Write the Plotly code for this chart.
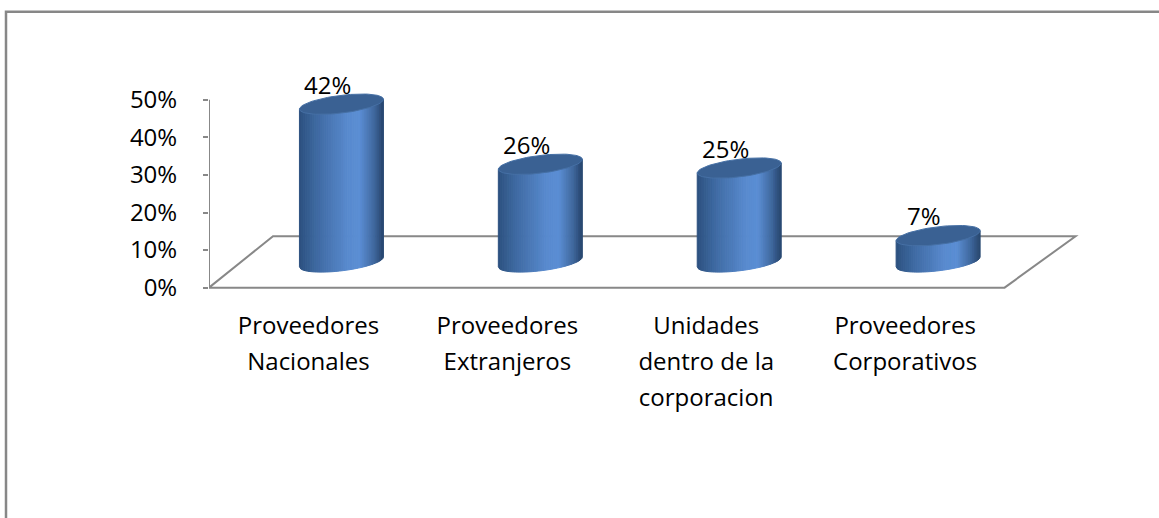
import numpy as np
import plotly.graph_objects as go

# ---- data ----
categories = ["Proveedores Nacionales", "Proveedores Extranjeros",
              "Unidades dentro de la corporacion", "Proveedores Corporativos"]
tick_lines = [["Proveedores", "Nacionales"],
              ["Proveedores", "Extranjeros"],
              ["Unidades", "dentro de la", "corporacion"],
              ["Proveedores", "Corporativos"]]
values = [42, 26, 25, 7]
y_ticks = [0, 10, 20, 30, 40, 50]
y_tick_labels = [f"{t}%" for t in y_ticks]

# ---- figure geometry ----
W, H = 1159, 518
X_RANGE = [-0.5, 4.0]
Y_RANGE = [-2.5, 60]
ZERO_PX, PX_Y = 291, 3.8          # pixel row of 0 % and pixels per percent
X_DOMAIN = [209 / W, 1104 / W]
Y_DOMAIN = [(H - (ZERO_PX - Y_RANGE[0] * PX_Y)) / H,
            (H - (ZERO_PX - Y_RANGE[1] * PX_Y)) / H]
PX_X = (X_DOMAIN[1] - X_DOMAIN[0]) * W / (X_RANGE[1] - X_RANGE[0])

# pseudo-3D look of the cylinders and floor
DEPTH_X = 33 / PX_X        # shift of cylinder axis behind the front edge
DEPTH_Y = 26 / PX_Y
FLOOR_BACK_L = 64 / PX_X
FLOOR_BACK_R = 71 / PX_X
FLOOR_DEPTH = 52 / PX_Y
RAD_X = 42 / PX_X          # half width of a cylinder
RAD_Y = 9 / PX_Y           # half height of the elliptical caps
TILT = 5 / PX_Y            # right side of caps sits higher

FONT = "Open Sans"
TEXT_SIZE = 24
GRID = "#888888"

# horizontal shading across a cylinder (u from -1 on the left to 1 on the right)
stops = [(-1.0, (44, 80, 126)), (-0.6, (62, 105, 160)), (0.15, (88, 138, 206)),
         (0.45, (91, 142, 212)), (0.8, (62, 102, 155)), (1.0, (40, 70, 110))]


def shade(u):
    for (u0, c0), (u1, c1) in zip(stops[:-1], stops[1:]):
        if u0 <= u <= u1:
            t = (u - u0) / (u1 - u0)
            c = [round(a + (b - a) * t) for a, b in zip(c0, c1)]
            return f"rgb({c[0]},{c[1]},{c[2]})"
    return "rgb(40,70,110)"


fig = go.Figure()

N = 44
centers = [i + DEPTH_X for i in range(len(values))]
for j in range(N):
    u0 = -1 + 2 * j / N
    u1 = -1 + 2 * (j + 1) / N
    us = np.linspace(u0, u1, 5)
    xs, ys = [], []
    for cx, v in zip(centers, values):
        base = DEPTH_Y
        bx = cx + RAD_X * us
        by = base + TILT * us - RAD_Y * np.sqrt(np.clip(1 - us ** 2, 0, 1))
        tx = bx[::-1]
        ty = (base + v + TILT * us)[::-1]
        xs += list(bx) + list(tx) + [bx[0], None]
        ys += list(by) + list(ty) + [by[0], None]
    col = shade((u0 + u1) / 2)
    fig.add_trace(go.Scatter(x=xs, y=ys, mode="lines", fill="toself",
                             fillcolor=col, line=dict(color=col, width=1),
                             hoverinfo="skip", showlegend=False))

# top caps
th = np.linspace(0, 2 * np.pi, 80)
for cx, v in zip(centers, values):
    top = DEPTH_Y + v
    fig.add_trace(go.Scatter(
        x=cx + RAD_X * np.cos(th),
        y=top + RAD_Y * np.sin(th) + TILT * np.cos(th),
        mode="lines", fill="toself", fillcolor="#3a6193",
        line=dict(color="#4670a5", width=1),
        hoverinfo="skip", showlegend=False))

# value labels above each cylinder
for cx, v in zip(centers, values):
    fig.add_annotation(x=cx - 14 / PX_X, y=DEPTH_Y + v + np.hypot(RAD_Y, TILT),
                       text=f"{v}%", showarrow=False, xanchor="center",
                       yanchor="bottom", yshift=-9,
                       font=dict(family=FONT, size=TEXT_SIZE, color="black"))

n = len(values)
shapes = [
    # floor outline
    dict(type="path", xref="x", yref="y", layer="below",
         path=(f"M {-0.5},0 L {n - 0.5},0 L {n - 0.5 + FLOOR_BACK_R},{FLOOR_DEPTH} "
               f"L {-0.5 + FLOOR_BACK_L},{FLOOR_DEPTH} Z"),
         line=dict(color=GRID, width=2)),
    # vertical axis line
    dict(type="line", xref="x", yref="y", layer="below",
         x0=-0.5, x1=-0.5, y0=y_ticks[0], y1=y_ticks[-1],
         line=dict(color=GRID, width=2)),
    # chart border
    dict(type="rect", xref="paper", yref="paper",
         x0=6 / W, x1=1.01, y0=-0.02, y1=1 - 12 / H,
         line=dict(color="#878787", width=2.5)),
]

tick_text = ["<br>".join(f"<span style='font-size:{TEXT_SIZE}px'>{s}</span>" for s in lines)
             for lines in tick_lines]

fig.update_layout(
    width=W, height=H,
    margin=dict(l=0, r=0, t=0, b=0),
    paper_bgcolor="white", plot_bgcolor="white",
    shapes=shapes,
    xaxis=dict(domain=X_DOMAIN, range=X_RANGE, showgrid=False, zeroline=False,
               showline=False, tickmode="array", tickvals=list(range(n)),
               ticktext=tick_text, ticks="", ticklabelstandoff=8,
               tickfont=dict(family=FONT, size=27.7, color="black"),
               fixedrange=True),
    yaxis=dict(domain=Y_DOMAIN, range=Y_RANGE, showgrid=False, zeroline=False,
               showline=False, tickmode="array", tickvals=y_ticks,
               ticktext=y_tick_labels, ticks="outside", ticklen=5,
               tickwidth=2, tickcolor=GRID, ticklabelstandoff=21,
               tickfont=dict(family=FONT, size=TEXT_SIZE, color="black"),
               fixedrange=True),
)

fig.write_html("out.html")
